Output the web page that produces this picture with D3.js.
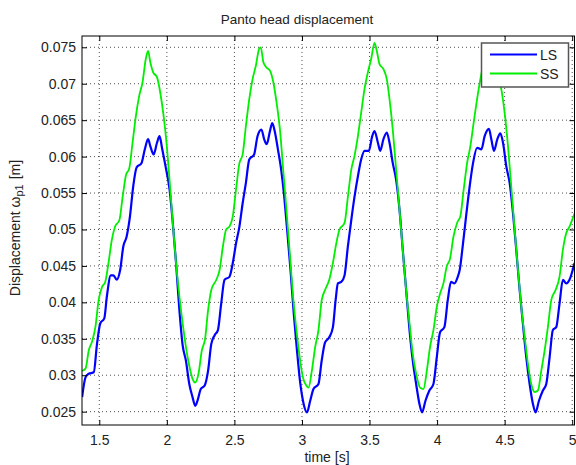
<!DOCTYPE html>
<html>
<head>
<meta charset="utf-8">
<script src="https://cdn.jsdelivr.net/npm/d3@7"></script>
<style>
  html, body { margin: 0; padding: 0; background: #fff; }
  svg { display: block; font-family: "Liberation Sans", Arial, Helvetica, sans-serif; }
</style>
</head>
<body>
<svg id="chart" width="576" height="465"></svg>
<script>
// Time samples [s] and displacement [m] for the two pantograph models
const lsTime = [1.373,1.398,1.422,1.459,1.483,1.507,1.537,1.556,1.585,1.605,1.629,1.654,1.678,1.702,1.727,1.751,1.776,1.812,1.837,1.861,1.878,1.902,1.927,1.946,1.966,1.990,2.020,2.044,2.068,2.093,2.117,2.141,2.166,2.190,2.210,2.227,2.251,2.280,
  2.305,2.329,2.354,2.378,2.402,2.427,2.463,2.488,2.512,2.537,2.561,2.585,2.610,2.646,2.671,2.700,2.720,2.739,2.763,2.780,2.798,2.822,2.846,2.866,2.890,2.915,2.939,2.963,2.988,3.012,3.037,3.061,3.085,3.122,3.146,3.171,3.202,
  3.229,3.249,3.266,3.291,3.315,3.340,3.365,3.389,3.414,3.438,3.463,3.495,3.520,3.537,3.562,3.579,3.603,3.628,3.648,3.672,3.697,3.722,3.746,3.771,3.796,3.820,3.845,3.869,3.889,3.914,3.943,3.973,3.998,4.022,4.054,4.079,4.103,
  4.128,4.153,4.167,4.192,4.217,4.241,4.266,4.296,4.328,4.352,4.384,4.401,4.421,4.446,4.468,4.488,4.512,4.537,4.562,4.586,4.611,4.635,4.660,4.685,4.709,4.729,4.754,4.783,4.808,4.833,4.857,4.882,4.906,4.931,4.956,4.980,5.017];
const lsValues = [0.0270,0.0297,0.0302,0.0304,0.0343,0.0371,0.0378,0.0408,0.0437,0.0437,0.0431,0.0444,0.0477,0.0490,0.0518,0.0559,0.0585,0.0591,0.0610,0.0624,0.0614,0.0603,0.0619,0.0628,0.0610,0.0587,0.0555,0.0509,0.0454,0.0389,0.0341,0.0320,0.0288,0.0270,0.0258,0.0265,0.0281,0.0286,
  0.0306,0.0343,0.0355,0.0362,0.0398,0.0431,0.0435,0.0454,0.0481,0.0504,0.0536,0.0564,0.0596,0.0603,0.0628,0.0637,0.0624,0.0617,0.0635,0.0646,0.0635,0.0610,0.0582,0.0550,0.0500,0.0445,0.0385,0.0334,0.0288,0.0261,0.0249,0.0265,0.0281,0.0288,0.0320,0.0345,0.0352,
  0.0366,0.0403,0.0426,0.0428,0.0437,0.0477,0.0513,0.0545,0.0573,0.0596,0.0608,0.0608,0.0628,0.0635,0.0619,0.0608,0.0624,0.0633,0.0619,0.0591,0.0568,0.0527,0.0472,0.0417,0.0362,0.0320,0.0288,0.0261,0.0249,0.0265,0.0279,0.0288,0.0325,0.0359,0.0366,0.0403,0.0428,
  0.0426,0.0435,0.0444,0.0481,0.0522,0.0559,0.0591,0.0612,0.0610,0.0628,0.0638,0.0624,0.0608,0.0624,0.0632,0.0619,0.0587,0.0564,0.0522,0.0472,0.0417,0.0371,0.0325,0.0288,0.0261,0.0249,0.0265,0.0279,0.0288,0.0325,0.0362,0.0366,0.0398,0.0431,0.0426,0.0431,0.0454];

const ssTime = [1.373,1.398,1.422,1.446,1.471,1.495,1.520,1.544,1.568,1.593,1.617,1.649,1.673,1.698,1.722,1.746,1.771,1.795,1.820,1.844,1.861,1.878,1.898,1.927,1.951,1.976,2.000,2.020,2.044,2.068,2.093,2.117,2.141,2.166,2.190,2.210,2.234,2.259,2.283,
  2.305,2.329,2.366,2.390,2.415,2.439,2.463,2.488,2.512,2.537,2.561,2.585,2.610,2.634,2.659,2.683,2.695,2.715,2.739,2.763,2.788,2.812,2.837,2.861,2.885,2.910,2.934,2.959,2.983,3.007,3.032,3.049,3.073,3.098,3.122,3.146,3.171,3.202,
  3.229,3.254,3.278,3.315,3.340,3.365,3.389,3.414,3.438,3.463,3.488,3.512,3.537,3.554,3.574,3.603,3.628,3.648,3.672,3.697,3.722,3.746,3.771,3.796,3.820,3.845,3.874,3.899,3.924,3.948,3.973,3.998,4.022,4.047,4.071,4.096,
  4.121,4.150,4.172,4.197,4.222,4.246,4.271,4.296,4.320,4.345,4.365,4.385,4.410,4.440,4.475,4.500,4.525,4.549,4.574,4.599,4.623,4.648,4.672,4.697,4.722,4.746,4.771,4.796,4.820,4.845,4.877,4.906,4.931,4.956,4.980,5.017];
const ssValues = [0.0306,0.0309,0.0334,0.0346,0.0366,0.0403,0.0421,0.0428,0.0454,0.0486,0.0504,0.0513,0.0545,0.0575,0.0584,0.0619,0.0656,0.0683,0.0702,0.0734,0.0745,0.0729,0.0716,0.0709,0.0688,0.0656,0.0614,0.0568,0.0509,0.0454,0.0408,0.0371,0.0339,0.0313,0.0295,0.0290,0.0302,0.0334,0.0350,
  0.0389,0.0417,0.0431,0.0444,0.0477,0.0500,0.0504,0.0518,0.0555,0.0591,0.0603,0.0642,0.0679,0.0706,0.0725,0.0748,0.0750,0.0729,0.0722,0.0718,0.0702,0.0674,0.0637,0.0582,0.0527,0.0467,0.0408,0.0362,0.0325,0.0297,0.0286,0.0283,0.0306,0.0339,0.0362,0.0403,0.0417,0.0431,
  0.0454,0.0481,0.0500,0.0509,0.0545,0.0582,0.0601,0.0628,0.0660,0.0693,0.0716,0.0734,0.0756,0.0745,0.0727,0.0720,0.0706,0.0679,0.0637,0.0582,0.0527,0.0472,0.0417,0.0371,0.0329,0.0302,0.0283,0.0281,0.0306,0.0339,0.0362,0.0394,0.0412,0.0426,0.0449,0.0460,
  0.0490,0.0510,0.0518,0.0555,0.0591,0.0614,0.0647,0.0679,0.0706,0.0730,0.0748,0.0735,0.0726,0.0716,0.0693,0.0660,0.0614,0.0559,0.0500,0.0444,0.0394,0.0353,0.0316,0.0288,0.0277,0.0279,0.0306,0.0334,0.0366,0.0403,0.0417,0.0435,0.0472,0.0495,0.0504,0.0522];

const xTicks = [1.5, 2, 2.5, 3, 3.5, 4, 4.5, 5];
const xTickLabels = ["1.5", "2", "2.5", "3", "3.5", "4", "4.5", "5"];
const yTicks = [0.025, 0.03, 0.035, 0.04, 0.045, 0.05, 0.055, 0.06, 0.065, 0.07, 0.075];
const yTickLabels = ["0.025", "0.03", "0.035", "0.04", "0.045", "0.05", "0.055", "0.06", "0.065", "0.07", "0.075"];

const seriesNames = ["LS", "SS"];
const seriesColors = ["#0000ff", "#00ee00"];

const svg = d3.select("#chart");
const plot = { left: 82, right: 574.5, top: 36, bottom: 425 };

const x = d3.scaleLinear().domain([1.372, 5.017]).range([plot.left, plot.right]);
const y = d3.scaleLinear().domain([0.02317, 0.07655]).range([plot.bottom, plot.top]);

// dotted grid
const grid = svg.append("g").attr("stroke", "#222").attr("stroke-width", 0.8).attr("stroke-dasharray", "1,3");
grid.selectAll(".gx").data(xTicks).join("line")
  .attr("x1", d => x(d)).attr("x2", d => x(d))
  .attr("y1", plot.top).attr("y2", plot.bottom);
grid.selectAll(".gy").data(yTicks).join("line")
  .attr("x1", plot.left).attr("x2", plot.right)
  .attr("y1", d => y(d)).attr("y2", d => y(d));

// data lines
svg.append("clipPath").attr("id", "plotclip").append("rect")
  .attr("x", plot.left).attr("y", plot.top)
  .attr("width", plot.right - plot.left).attr("height", plot.bottom - plot.top);

const line = d3.line().x(d => x(d[0])).y(d => y(d[1])).curve(d3.curveMonotoneX);
const series = [
  d3.zip(lsTime, lsValues),
  d3.zip(ssTime, ssValues)
];
const widths = [2.2, 1.8];
svg.append("g").attr("clip-path", "url(#plotclip)")
  .selectAll("path").data(series).join("path")
  .attr("d", line)
  .attr("fill", "none")
  .attr("stroke", (d, i) => seriesColors[i])
  .attr("stroke-width", (d, i) => widths[i])
  .attr("stroke-linejoin", "round");

// axes: bottom/left with labels, top/right as mirrored inward ticks
const tickLen = 5;
const xAxis = d3.axisBottom(x).tickValues(xTicks).tickFormat((d, i) => xTickLabels[i]).tickSizeInner(-tickLen).tickSizeOuter(0).tickPadding(10);
const yAxis = d3.axisLeft(y).tickValues(yTicks).tickFormat((d, i) => yTickLabels[i]).tickSizeInner(-tickLen).tickSizeOuter(0).tickPadding(6);
const xTop = d3.axisTop(x).tickValues(xTicks).tickFormat("").tickSizeInner(-tickLen).tickSizeOuter(0);
const yRight = d3.axisRight(y).tickValues(yTicks).tickFormat("").tickSizeInner(-tickLen).tickSizeOuter(0);

function styleAxis(g) {
  g.select(".domain").remove();
  g.selectAll("line").attr("stroke", "#000").attr("stroke-width", 1);
  g.selectAll("text").attr("fill", "#222").style("font-size", "14px").style("font-family", "Liberation Sans, Arial, sans-serif");
}
svg.append("g").attr("transform", `translate(0,${plot.bottom})`).call(xAxis).call(styleAxis);
svg.append("g").attr("transform", `translate(${plot.left},0)`).call(yAxis).call(styleAxis);
svg.append("g").attr("transform", `translate(0,${plot.top})`).call(xTop).call(styleAxis);
svg.append("g").attr("transform", `translate(${plot.right},0)`).call(yRight).call(styleAxis);

// axes box
svg.append("rect")
  .attr("x", plot.left).attr("y", plot.top)
  .attr("width", plot.right - plot.left).attr("height", plot.bottom - plot.top)
  .attr("fill", "none").attr("stroke", "#000").attr("stroke-width", 1);

// title and axis labels
svg.append("text").attr("x", 297).attr("y", 24).attr("text-anchor", "middle")
  .attr("fill", "#222").style("font-size", "13.5px").text("Panto head displacement");
svg.append("text").attr("x", 327).attr("y", 462).attr("text-anchor", "middle")
  .attr("fill", "#222").style("font-size", "14px").text("time [s]");

const ylab = svg.append("text")
  .attr("transform", "translate(20,228) rotate(-90)")
  .attr("text-anchor", "middle").attr("fill", "#222").style("font-size", "14px");
ylab.append("tspan").text("Displacement \u03c9");
ylab.append("tspan").attr("dy", 3).style("font-size", "11px").text("p1");
ylab.append("tspan").attr("dy", -3).attr("dx", 5).text("[m]");

// legend
const lg = svg.append("g");
lg.append("rect").attr("x", 481.5).attr("y", 43).attr("width", 87).attr("height", 44)
  .attr("fill", "#fff").attr("stroke", "#555").attr("stroke-width", 1.5);
const entries = lg.selectAll(".entry").data(seriesNames).join("g")
  .attr("transform", (d, i) => `translate(0,${54.5 + i * 19})`);
entries.append("line").attr("x1", 490).attr("x2", 537).attr("y1", 0).attr("y2", 0)
  .attr("stroke", (d, i) => seriesColors[i]).attr("stroke-width", (d, i) => widths[i]);
entries.append("text").attr("x", 540).attr("y", 5).attr("fill", "#222")
  .style("font-size", "14px").text(d => d);
</script>
</body>
</html>
